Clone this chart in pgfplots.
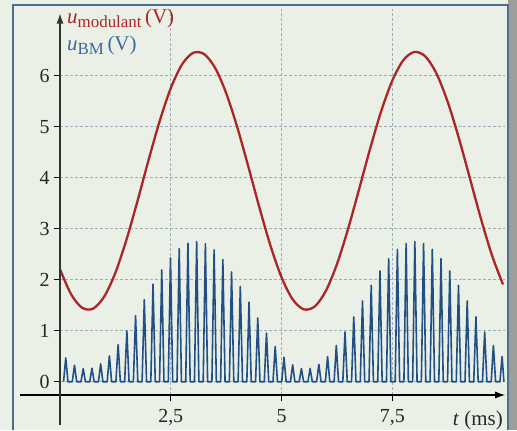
\documentclass[border=0pt]{standalone}
\usepackage{fontspec}
\setmainfont{Liberation Serif}
\usepackage{pgfplots}
\pgfplotsset{compat=1.18}
\usetikzlibrary{arrows.meta}
\definecolor{paper}{HTML}{EAF0E6}
\definecolor{modred}{HTML}{AC2526}
\definecolor{bmblue}{HTML}{224F86}
\definecolor{lblblue}{HTML}{3A6A9A}
\definecolor{gridc}{HTML}{9AAEBC}
\definecolor{frame}{HTML}{4C6F90}
\definecolor{edge}{HTML}{9C9E9A}
\begin{document}
\begin{tikzpicture}[x=1bp,y=1bp]
% page background, frame and page edge (1 px = 1 bp, origin at the axes' corner)
\fill[paper] (-60,-35) rectangle (457,395);
\fill[edge] (448,-35) rectangle (457,395);
\draw[frame, line width=1.6bp] (-47,-35) -- (-47,390) -- (448,390) -- (448,-35);
\useasboundingbox (-60,-35) rectangle (457,395);
\begin{axis}[
  at={(0,0)}, anchor=south west,
  scale only axis,
  x=44.3bp, y=51bp,
  xmin=0, xmax=10.05,
  ymin=-0.26, ymax=7.3,
  clip=false,
  axis line style={draw=none},
  xtick={2.5,5,7.5}, ytick={0,1,2,3,4,5,6},
  tick align=outside,
  major tick length=6bp,
  tick style={black, line width=0.9bp},
  xtick pos=bottom, ytick pos=left,
  xmajorgrids, ymajorgrids,
  grid style={gridc, densely dashed, line width=0.6bp},
  /pgf/number format/use comma,
  /pgf/number format/assume math mode=true,
  ticklabel style={font=\fontsize{20}{20}\selectfont, text=black!85},
  xticklabel style={yshift=-5bp},
  yticklabel style={xshift=-1bp},
]
% modulating signal
\addplot[modred, line width=2.3bp, smooth] coordinates {
(0,2.205) (0.25,1.716) (0.5,1.450) (0.75,1.435) (1.0,1.672) (1.25,2.136)
(1.5,2.784) (1.75,3.546) (2.0,4.349) (2.25,5.111) (2.5,5.755) (2.75,6.215)
(3.0,6.447) (3.25,6.427) (3.5,6.156) (3.75,5.662) (4.0,4.995) (4.25,4.222)
(4.5,3.420) (4.75,2.671) (5.0,2.049) (5.25,1.618) (5.5,1.420) (5.75,1.476)
(6.0,1.780) (6.25,2.302) (6.5,2.988) (6.75,3.770) (7.0,4.569) (7.25,5.305)
(7.5,5.903) (7.75,6.305) (8.0,6.467) (8.25,6.376) (8.5,6.039) (8.75,5.491)
(9.0,4.787) (9.25,3.997) (9.5,3.202) (9.75,2.481) (10.0,1.907)};
% BM signal (rectified spikes)
\addplot[bmblue, line width=1.6bp, line join=round] coordinates {
(0.080,0) (0.130,0.467) (0.180,0)
(0.277,0) (0.327,0.324) (0.377,0)
(0.474,0) (0.524,0.256) (0.574,0)
(0.671,0) (0.721,0.265) (0.771,0)
(0.868,0) (0.918,0.351) (0.968,0)
(1.065,0) (1.115,0.509) (1.165,0)
(1.262,0) (1.312,0.729) (1.362,0)
(1.459,0) (1.509,0.996) (1.559,0)
(1.656,0) (1.706,1.296) (1.756,0)
(1.853,0) (1.903,1.608) (1.953,0)
(2.050,0) (2.100,1.913) (2.150,0)
(2.247,0) (2.297,2.193) (2.347,0)
(2.444,0) (2.494,2.429) (2.544,0)
(2.641,0) (2.691,2.608) (2.741,0)
(2.838,0) (2.888,2.717) (2.938,0)
(3.035,0) (3.085,2.750) (3.135,0)
(3.232,0) (3.282,2.705) (3.332,0)
(3.429,0) (3.479,2.585) (3.529,0)
(3.626,0) (3.676,2.397) (3.726,0)
(3.823,0) (3.873,2.153) (3.923,0)
(4.020,0) (4.070,1.868) (4.120,0)
(4.217,0) (4.267,1.560) (4.317,0)
(4.414,0) (4.464,1.249) (4.514,0)
(4.611,0) (4.661,0.953) (4.711,0)
(4.808,0) (4.858,0.692) (4.908,0)
(5.005,0) (5.055,0.480) (5.105,0)
(5.202,0) (5.252,0.333) (5.302,0)
(5.399,0) (5.449,0.258) (5.499,0)
(5.596,0) (5.646,0.261) (5.696,0)
(5.793,0) (5.843,0.342) (5.893,0)
(5.990,0) (6.040,0.494) (6.090,0)
(6.187,0) (6.237,0.710) (6.287,0)
(6.384,0) (6.434,0.975) (6.484,0)
(6.581,0) (6.631,1.272) (6.681,0)
(6.778,0) (6.828,1.584) (6.878,0)
(6.975,0) (7.025,1.891) (7.075,0)
(7.172,0) (7.222,2.173) (7.272,0)
(7.369,0) (7.419,2.413) (7.469,0)
(7.566,0) (7.616,2.596) (7.666,0)
(7.763,0) (7.813,2.711) (7.863,0)
(7.960,0) (8.010,2.750) (8.060,0)
(8.157,0) (8.207,2.711) (8.257,0)
(8.354,0) (8.404,2.597) (8.454,0)
(8.551,0) (8.601,2.413) (8.651,0)
(8.748,0) (8.798,2.173) (8.848,0)
(8.945,0) (8.995,1.891) (9.045,0)
(9.142,0) (9.192,1.584) (9.242,0)
(9.339,0) (9.389,1.273) (9.439,0)
(9.536,0) (9.586,0.975) (9.636,0)
(9.733,0) (9.783,0.710) (9.833,0)
(9.930,0) (9.980,0.494) (10.02,0)};
% axes with arrows
\draw[black, line width=1.2bp, -{Latex[length=10bp,width=7bp]}] (axis cs:-0.9,-0.26) -- (axis cs:10.05,-0.26);
\draw[black!80, line width=1.2bp, -{Latex[length=10bp,width=7bp]}] (axis cs:0,-0.85) -- (axis cs:0,7.22);
\end{axis}
% axis titles
\node[anchor=base west, inner sep=0, text=modred, font=\fontsize{21}{21}\selectfont] at (7,372)
  {\textit{u}\raisebox{-0.22em}{\fontsize{17}{17}\selectfont modulant}\,(V)};
\node[anchor=base west, inner sep=0, text=lblblue, font=\fontsize{21}{21}\selectfont] at (7,345)
  {\textit{u}\raisebox{-0.22em}{\fontsize{17}{17}\selectfont BM}\,(V)};
\node[anchor=base east, inner sep=0, text=black!85, font=\fontsize{21}{21}\selectfont] at (443,-30)
  {\textit{t} (ms)};
\end{tikzpicture}
\end{document}
